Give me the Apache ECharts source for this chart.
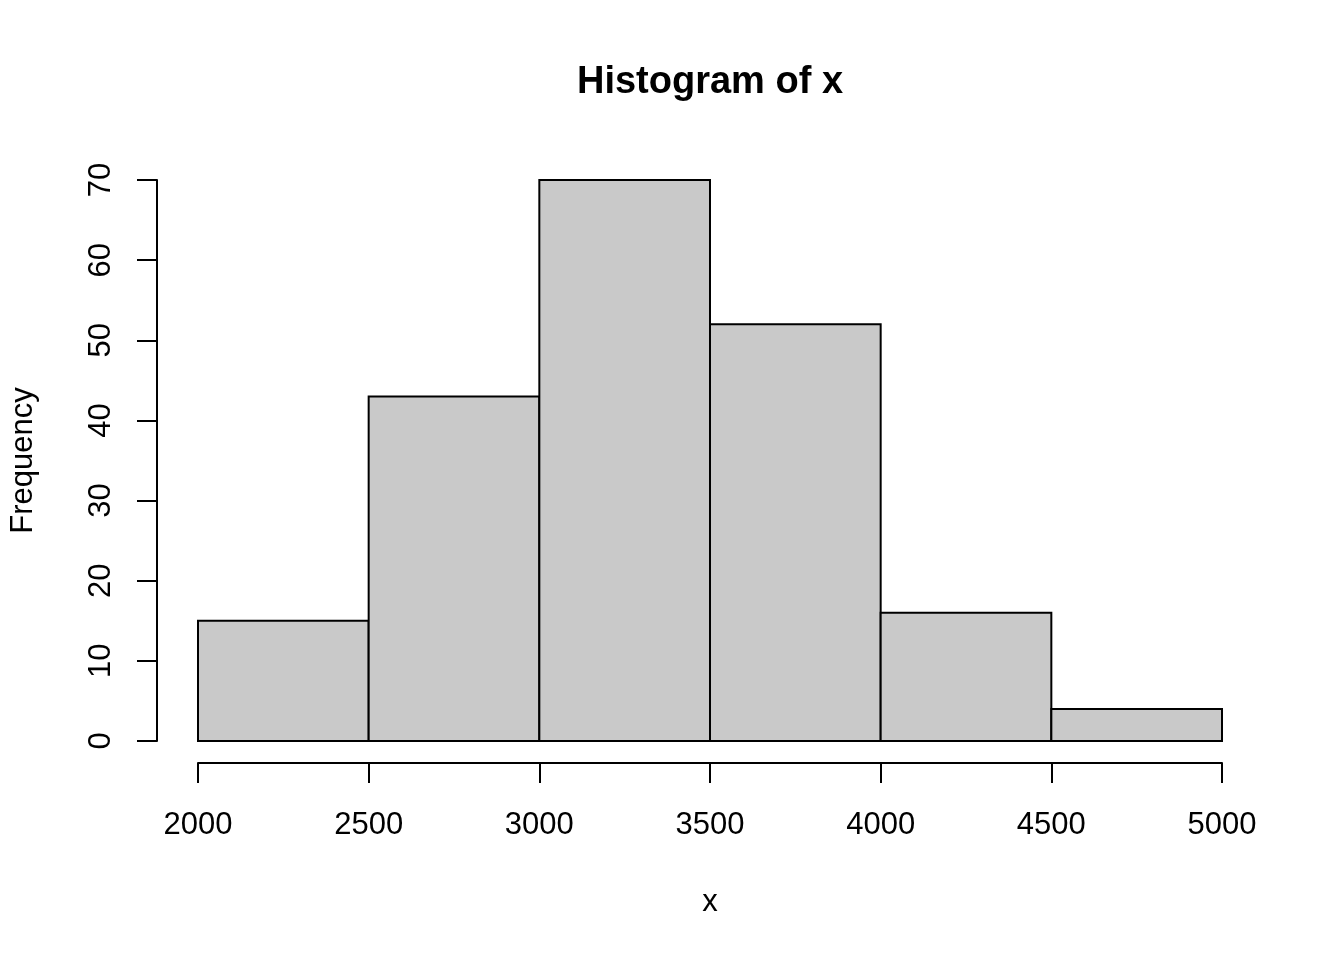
<!DOCTYPE html>
<html>
<head>
<meta charset="utf-8">
<script src="https://cdn.jsdelivr.net/npm/echarts@6/dist/echarts.min.js"></script>
<style>
  html, body { margin: 0; padding: 0; background: #fff; }
  #chart { width: 1344px; height: 960px; }
</style>
</head>
<body>
<div id="chart"></div>
<script>
//直方图数据
const breaks = [2000, 2500, 3000, 3500, 4000, 4500, 5000];
const counts = [15, 43, 70, 52, 16, 4];
const yTicks = [0, 10, 20, 30, 40, 50, 60, 70];

const fontFamily = "'Liberation Sans', Arial, Helvetica, sans-serif";

//每个柱子: [起点, 终点, 频数]
let bins = counts.map((c, i) => [breaks[i], breaks[i + 1], c]);

let chart = echarts.init(document.getElementById("chart"), null, { renderer: "canvas" });

let option = {
    backgroundColor: "#ffffff",
    animation: false,
    title: {
        text: "Histogram of x",
        left: 705,
        top: 59,
        textAlign: "center",
        textStyle: { fontFamily: fontFamily, fontWeight: "bold", fontSize: 38, color: "#000" }
    },
    grid: { left: 198, right: 122, top: 180, bottom: 219 },
    xAxis: {
        type: "value",
        min: breaks[0],
        max: breaks[breaks.length - 1],
        interval: 500,
        offset: 22,
        name: "x",
        nameLocation: "middle",
        nameGap: 124,
        nameTextStyle: { fontFamily: fontFamily, fontSize: 31, color: "#000" },
        axisLine: { show: true, onZero: false, lineStyle: { color: "#000", width: 2 } },
        axisTick: { show: true, length: 20, lineStyle: { color: "#000", width: 2 } },
        axisLabel: {
            fontFamily: fontFamily, fontSize: 31, color: "#000", margin: 47,
            formatter: v => String(v)
        },
        splitLine: { show: false }
    },
    yAxis: {
        type: "value",
        min: yTicks[0],
        max: yTicks[yTicks.length - 1],
        interval: 10,
        offset: 41,
        name: "Frequency",
        nameLocation: "middle",
        nameRotate: 90,
        nameGap: 118,
        nameTextStyle: { fontFamily: fontFamily, fontSize: 31, color: "#000" },
        axisLine: { show: true, onZero: false, lineStyle: { color: "#000", width: 2 } },
        axisTick: { show: true, length: 20, lineStyle: { color: "#000", width: 2 } },
        axisLabel: { fontFamily: fontFamily, fontSize: 31, color: "#000", rotate: 90, margin: 40 },
        splitLine: { show: false }
    },
    series: [{
        type: "custom",
        clip: false,
        data: bins,
        encode: { x: [0, 1], y: 2 },
        renderItem: function (params, api) {
            let p0 = api.coord([api.value(0), api.value(2)]);
            let p1 = api.coord([api.value(1), 0]);
            return {
                type: "rect",
                shape: { x: p0[0], y: p0[1], width: p1[0] - p0[0], height: p1[1] - p0[1] },
                style: { fill: "#c9c9c9", stroke: "#000", lineWidth: 2 }
            };
        }
    }]
};

chart.setOption(option);
</script>
</body>
</html>
